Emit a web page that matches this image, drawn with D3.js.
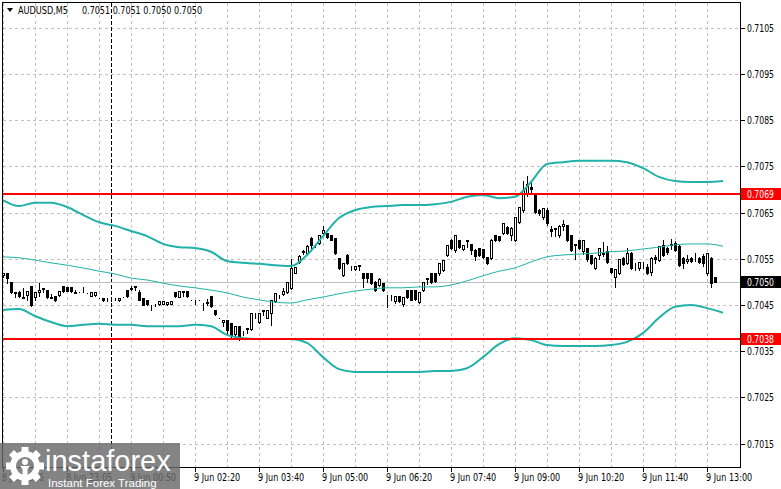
<!DOCTYPE html>
<html>
<head>
<meta charset="utf-8">
<script src="https://cdn.jsdelivr.net/npm/d3@7"></script>
<style>
    body { margin: 0; background: #fff; }
    svg text { font-family: "Liberation Sans Narrow", "DejaVu Sans Condensed", "Liberation Sans", sans-serif; }
</style>
</head>
<body>
<div id="chart"></div>
<script>
// AUDUSD M5 candles: [open, high, low, close], one per 5-minute bar
const candles = [
    [0.70514, 0.70520, 0.70510, 0.70518], [0.70519, 0.70520, 0.70498, 0.70508], [0.70500, 0.70501, 0.70475, 0.70478],
    [0.70476, 0.70481, 0.70468, 0.70479], [0.70479, 0.70482, 0.70468, 0.70470], [0.70466, 0.70489, 0.70465, 0.70468],
    [0.70471, 0.70482, 0.70460, 0.70480], [0.70490, 0.70492, 0.70448, 0.70450], [0.70468, 0.70479, 0.70461, 0.70478],
    [0.70478, 0.70499, 0.70470, 0.70482], [0.70485, 0.70489, 0.70478, 0.70487], [0.70482, 0.70484, 0.70466, 0.70468],
    [0.70466, 0.70475, 0.70465, 0.70468], [0.70470, 0.70471, 0.70459, 0.70461], [0.70471, 0.70481, 0.70470, 0.70480],
    [0.70490, 0.70491, 0.70479, 0.70481], [0.70489, 0.70490, 0.70480, 0.70481], [0.70488, 0.70489, 0.70479, 0.70480],
    [0.70476, 0.70485, 0.70476, 0.70478], [0.70480, 0.70481, 0.70479, 0.70480], [0.70489, 0.70490, 0.70478, 0.70488],
    [0.70477, 0.70478, 0.70476, 0.70477], [0.70470, 0.70478, 0.70469, 0.70478], [0.70471, 0.70479, 0.70470, 0.70478],
    [0.70466, 0.70467, 0.70465, 0.70466], [0.70466, 0.70467, 0.70459, 0.70460], [0.70466, 0.70467, 0.70459, 0.70465],
    [0.70468, 0.70470, 0.70459, 0.70467], [0.70466, 0.70467, 0.70460, 0.70466], [0.70460, 0.70467, 0.70459, 0.70466],
    [0.70469, 0.70470, 0.70468, 0.70469], [0.70482, 0.70483, 0.70468, 0.70470], [0.70484, 0.70493, 0.70483, 0.70486],
    [0.70490, 0.70491, 0.70482, 0.70489], [0.70478, 0.70485, 0.70460, 0.70461], [0.70466, 0.70467, 0.70449, 0.70450],
    [0.70460, 0.70461, 0.70450, 0.70451], [0.70450, 0.70451, 0.70440, 0.70449], [0.70452, 0.70454, 0.70448, 0.70451],
    [0.70451, 0.70458, 0.70450, 0.70458], [0.70452, 0.70459, 0.70451, 0.70458], [0.70451, 0.70458, 0.70450, 0.70457],
    [0.70452, 0.70459, 0.70451, 0.70458], [0.70478, 0.70480, 0.70468, 0.70470], [0.70468, 0.70481, 0.70467, 0.70480],
    [0.70480, 0.70481, 0.70470, 0.70479], [0.70481, 0.70482, 0.70468, 0.70470], [0.70461, 0.70462, 0.70460, 0.70461],
    [0.70461, 0.70462, 0.70451, 0.70460], [0.70461, 0.70462, 0.70460, 0.70461], [0.70455, 0.70456, 0.70439, 0.70454],
    [0.70455, 0.70465, 0.70450, 0.70456], [0.70470, 0.70472, 0.70446, 0.70448], [0.70439, 0.70441, 0.70428, 0.70430],
    [0.70422, 0.70423, 0.70421, 0.70422], [0.70413, 0.70418, 0.70405, 0.70417], [0.70417, 0.70419, 0.70385, 0.70396],
    [0.70410, 0.70412, 0.70378, 0.70385], [0.70387, 0.70406, 0.70376, 0.70405], [0.70405, 0.70407, 0.70374, 0.70380],
    [0.70392, 0.70395, 0.70385, 0.70392], [0.70400, 0.70402, 0.70390, 0.70398], [0.70398, 0.70435, 0.70395, 0.70433],
    [0.70433, 0.70435, 0.70422, 0.70432], [0.70413, 0.70433, 0.70410, 0.70432], [0.70438, 0.70440, 0.70428, 0.70437],
    [0.70422, 0.70439, 0.70421, 0.70439], [0.70433, 0.70461, 0.70407, 0.70461], [0.70458, 0.70478, 0.70456, 0.70476],
    [0.70472, 0.70473, 0.70465, 0.70471], [0.70474, 0.70489, 0.70472, 0.70480], [0.70478, 0.70500, 0.70476, 0.70500],
    [0.70487, 0.70552, 0.70485, 0.70530], [0.70519, 0.70535, 0.70518, 0.70532], [0.70543, 0.70560, 0.70540, 0.70556],
    [0.70566, 0.70571, 0.70560, 0.70565], [0.70562, 0.70582, 0.70560, 0.70578], [0.70595, 0.70600, 0.70573, 0.70580],
    [0.70584, 0.70585, 0.70575, 0.70583], [0.70584, 0.70602, 0.70582, 0.70601], [0.70606, 0.70623, 0.70604, 0.70612],
    [0.70606, 0.70608, 0.70595, 0.70597], [0.70601, 0.70604, 0.70590, 0.70591], [0.70595, 0.70597, 0.70560, 0.70562],
    [0.70552, 0.70554, 0.70528, 0.70530], [0.70515, 0.70541, 0.70512, 0.70541], [0.70558, 0.70562, 0.70538, 0.70541],
    [0.70536, 0.70537, 0.70526, 0.70536], [0.70527, 0.70536, 0.70526, 0.70535], [0.70536, 0.70537, 0.70526, 0.70535],
    [0.70519, 0.70522, 0.70489, 0.70508], [0.70519, 0.70521, 0.70500, 0.70508], [0.70518, 0.70520, 0.70495, 0.70498],
    [0.70500, 0.70503, 0.70480, 0.70482], [0.70493, 0.70510, 0.70490, 0.70506], [0.70497, 0.70499, 0.70480, 0.70482],
    [0.70472, 0.70473, 0.70446, 0.70471], [0.70472, 0.70473, 0.70461, 0.70471], [0.70458, 0.70470, 0.70455, 0.70469],
    [0.70470, 0.70472, 0.70456, 0.70458], [0.70452, 0.70468, 0.70448, 0.70467], [0.70482, 0.70484, 0.70466, 0.70467],
    [0.70482, 0.70485, 0.70460, 0.70461], [0.70482, 0.70484, 0.70460, 0.70462], [0.70457, 0.70478, 0.70455, 0.70478],
    [0.70482, 0.70500, 0.70480, 0.70500], [0.70508, 0.70510, 0.70495, 0.70507], [0.70519, 0.70521, 0.70498, 0.70500],
    [0.70519, 0.70521, 0.70500, 0.70502], [0.70519, 0.70541, 0.70515, 0.70541], [0.70526, 0.70550, 0.70524, 0.70547],
    [0.70558, 0.70582, 0.70556, 0.70580], [0.70591, 0.70595, 0.70572, 0.70573], [0.70569, 0.70603, 0.70565, 0.70601],
    [0.70591, 0.70593, 0.70573, 0.70575], [0.70570, 0.70581, 0.70568, 0.70580], [0.70590, 0.70592, 0.70575, 0.70589],
    [0.70582, 0.70584, 0.70560, 0.70569], [0.70569, 0.70573, 0.70547, 0.70556], [0.70573, 0.70575, 0.70556, 0.70558],
    [0.70571, 0.70573, 0.70552, 0.70554], [0.70554, 0.70556, 0.70539, 0.70541], [0.70552, 0.70595, 0.70550, 0.70591],
    [0.70601, 0.70603, 0.70589, 0.70591], [0.70600, 0.70602, 0.70588, 0.70590], [0.70606, 0.70630, 0.70604, 0.70627],
    [0.70619, 0.70624, 0.70604, 0.70606], [0.70601, 0.70621, 0.70590, 0.70617], [0.70591, 0.70642, 0.70588, 0.70640],
    [0.70629, 0.70664, 0.70627, 0.70662], [0.70655, 0.70720, 0.70652, 0.70699], [0.70690, 0.70731, 0.70685, 0.70712],
    [0.70705, 0.70720, 0.70690, 0.70700], [0.70692, 0.70695, 0.70648, 0.70651], [0.70655, 0.70660, 0.70645, 0.70649],
    [0.70640, 0.70662, 0.70635, 0.70660], [0.70655, 0.70662, 0.70622, 0.70627], [0.70615, 0.70623, 0.70600, 0.70610],
    [0.70617, 0.70619, 0.70600, 0.70615], [0.70601, 0.70625, 0.70598, 0.70621], [0.70620, 0.70635, 0.70612, 0.70625],
    [0.70623, 0.70626, 0.70589, 0.70591], [0.70601, 0.70603, 0.70567, 0.70569], [0.70582, 0.70584, 0.70550, 0.70580],
    [0.70591, 0.70593, 0.70571, 0.70573], [0.70567, 0.70593, 0.70560, 0.70590], [0.70573, 0.70575, 0.70545, 0.70550],
    [0.70558, 0.70560, 0.70539, 0.70541], [0.70530, 0.70555, 0.70528, 0.70552], [0.70558, 0.70575, 0.70550, 0.70573],
    [0.70560, 0.70588, 0.70555, 0.70563], [0.70567, 0.70580, 0.70540, 0.70543], [0.70530, 0.70532, 0.70519, 0.70521],
    [0.70510, 0.70530, 0.70489, 0.70528], [0.70519, 0.70552, 0.70517, 0.70550], [0.70552, 0.70556, 0.70536, 0.70538],
    [0.70541, 0.70575, 0.70538, 0.70563], [0.70562, 0.70567, 0.70528, 0.70530], [0.70541, 0.70543, 0.70526, 0.70540],
    [0.70530, 0.70545, 0.70526, 0.70543], [0.70541, 0.70545, 0.70530, 0.70540], [0.70532, 0.70540, 0.70517, 0.70520],
    [0.70521, 0.70555, 0.70515, 0.70552], [0.70553, 0.70560, 0.70540, 0.70550], [0.70547, 0.70580, 0.70545, 0.70578],
    [0.70580, 0.70592, 0.70556, 0.70558], [0.70573, 0.70578, 0.70560, 0.70565], [0.70582, 0.70595, 0.70570, 0.70580],
    [0.70584, 0.70590, 0.70567, 0.70569], [0.70578, 0.70582, 0.70534, 0.70537], [0.70552, 0.70556, 0.70530, 0.70541],
    [0.70545, 0.70560, 0.70540, 0.70550], [0.70552, 0.70556, 0.70543, 0.70545], [0.70556, 0.70565, 0.70545, 0.70555],
    [0.70552, 0.70555, 0.70540, 0.70543], [0.70556, 0.70562, 0.70535, 0.70541], [0.70519, 0.70565, 0.70515, 0.70562],
    [0.70552, 0.70556, 0.70489, 0.70497], [0.70510, 0.70512, 0.70499, 0.70500]
];

// Bollinger bands, read every 4 bars (bar 0, 4, 8, ... 180)
const bandStep = 4;
const upperBand = [
    0.70677, 0.70664, 0.70671, 0.70671, 0.70662, 0.70645, 0.70629, 0.70621, 0.70610, 0.70599,
    0.70582, 0.70575, 0.70573, 0.70565, 0.70545, 0.70541, 0.70539, 0.70536, 0.70534, 0.70558,
    0.70599, 0.70638, 0.70655, 0.70662, 0.70664, 0.70666, 0.70666, 0.70668, 0.70673, 0.70684,
    0.70688, 0.70681, 0.70684, 0.70716, 0.70755, 0.70759, 0.70762, 0.70762, 0.70762, 0.70759,
    0.70746, 0.70727, 0.70718, 0.70716, 0.70716, 0.70718
];
const middleBand = [
    0.70554, 0.70552, 0.70547, 0.70541, 0.70536, 0.70530, 0.70523, 0.70517, 0.70508, 0.70504,
    0.70497, 0.70491, 0.70487, 0.70482, 0.70476, 0.70467, 0.70461, 0.70456, 0.70454, 0.70461,
    0.70467, 0.70474, 0.70480, 0.70484, 0.70487, 0.70487, 0.70489, 0.70489, 0.70493, 0.70502,
    0.70513, 0.70523, 0.70530, 0.70543, 0.70554, 0.70558, 0.70560, 0.70562, 0.70565, 0.70567,
    0.70571, 0.70575, 0.70580, 0.70582, 0.70582, 0.70577
];
const lowerBand = [
    0.70439, 0.70441, 0.70426, 0.70413, 0.70404, 0.70407, 0.70409, 0.70407, 0.70407, 0.70404,
    0.70404, 0.70404, 0.70407, 0.70404, 0.70385, 0.70378, 0.70376, 0.70376, 0.70376, 0.70368,
    0.70337, 0.70311, 0.70305, 0.70305, 0.70305, 0.70305, 0.70305, 0.70307, 0.70307, 0.70313,
    0.70337, 0.70365, 0.70378, 0.70374, 0.70363, 0.70361, 0.70361, 0.70361, 0.70363, 0.70370,
    0.70389, 0.70422, 0.70446, 0.70450, 0.70443, 0.70433
];

const priceTicks = [0.7015, 0.7025, 0.7035, 0.7045, 0.7055, 0.7065, 0.7075, 0.7085, 0.7095, 0.7105];
const timeLabels = [
    { bar: 0, text: '8 Jun 2026' }, { bar: 16, text: '8 Jun 23:05' }, { bar: 32, text: '9 Jun 00:50' },
    { bar: 48, text: '9 Jun 02:20' }, { bar: 64, text: '9 Jun 03:40' }, { bar: 80, text: '9 Jun 05:00' },
    { bar: 96, text: '9 Jun 06:20' }, { bar: 112, text: '9 Jun 07:40' }, { bar: 128, text: '9 Jun 09:00' },
    { bar: 144, text: '9 Jun 10:20' }, { bar: 160, text: '9 Jun 11:40' }, { bar: 176, text: '9 Jun 13:00' }
];
const daySeparatorBar = 27;
const levels = [{ price: 0.7069, text: '0.7069' }, { price: 0.70377, text: '0.7038' }];
const bid = { price: 0.7050, text: '0.7050' };
const symbol = 'AUDUSD,M5';
const ohlc = '0.7051 0.7051 0.7050 0.7050';

const width = 781, height = 489;
const plot = { left: 2.5, right: 740.5, top: 2.5, bottom: 467.5 };
const teal = '#20b2aa';
const fontSize = '10.5px';

const svg = d3.select('#chart')
    .append('svg')
    .attr('width', width)
    .attr('height', height)
    .style('display', 'block');

const x = d3.scaleLinear().domain([0, 178]).range([3, 715]);
const y = d3.scaleLinear().domain([0.7015, 0.7105]).range([443.5, 27.7]);
const py = p => Math.round(y(p)) + 0.5;

// grid
const grid = svg.append('g').attr('shape-rendering', 'crispEdges');
grid.selectAll('line.h')
    .data(priceTicks)
    .join('line')
    .attr('x1', plot.left).attr('x2', plot.right)
    .attr('y1', d => py(d)).attr('y2', d => py(d))
    .attr('stroke', '#c0c0c0')
    .attr('stroke-dasharray', '3,3');

grid.selectAll('line.v')
    .data(d3.range(0, 177, 8))
    .join('line')
    .attr('x1', d => x(d) + 0.5).attr('x2', d => x(d) + 0.5)
    .attr('y1', plot.top).attr('y2', plot.bottom)
    .attr('stroke', '#c0c0c0')
    .attr('stroke-dasharray', '3,3');

grid.append('line')
    .attr('x1', x(daySeparatorBar) + 0.5).attr('x2', x(daySeparatorBar) + 0.5)
    .attr('y1', plot.top).attr('y2', plot.bottom)
    .attr('stroke', '#000')
    .attr('stroke-dasharray', '4,2');

grid.append('line')
    .attr('x1', plot.left).attr('x2', plot.right)
    .attr('y1', py(bid.price)).attr('y2', py(bid.price))
    .attr('stroke', '#c0c0c0');

// candles
const cg = svg.append('g').attr('shape-rendering', 'crispEdges');
cg.selectAll('line.wick')
    .data(candles)
    .join('line')
    .attr('x1', (d, i) => x(i) + 0.5).attr('x2', (d, i) => x(i) + 0.5)
    .attr('y1', d => py(d[1])).attr('y2', d => py(d[2]))
    .attr('stroke', '#000');

cg.selectAll('rect.body')
    .data(candles)
    .join('rect')
    .attr('x', (d, i) => x(i) - 0.5)
    .attr('width', 2)
    .attr('y', d => py(Math.max(d[0], d[3])))
    .attr('height', d => Math.max(0, py(Math.min(d[0], d[3])) - py(Math.max(d[0], d[3]))))
    .attr('fill', d => d[3] >= d[0] ? '#fff' : '#000')
    .attr('stroke', '#000');

// bollinger bands
const bandLine = d3.line()
    .x((d, i) => x(i * bandStep))
    .y(d => y(d))
    .curve(d3.curveMonotoneX);

[[upperBand, 2], [middleBand, 1], [lowerBand, 2]].forEach(([band, w]) => {
    svg.append('path')
        .datum(band)
        .attr('d', bandLine)
        .attr('fill', 'none')
        .attr('stroke', teal)
        .attr('stroke-width', w);
});

// horizontal levels
svg.selectAll('line.level')
    .data(levels)
    .join('line')
    .attr('x1', plot.left).attr('x2', plot.right)
    .attr('y1', d => Math.round(y(d.price))).attr('y2', d => Math.round(y(d.price)))
    .attr('stroke', '#ff0000')
    .attr('stroke-width', 2)
    .attr('shape-rendering', 'crispEdges');

// frame
svg.append('rect')
    .attr('x', plot.left).attr('y', plot.top)
    .attr('width', plot.right - plot.left).attr('height', plot.bottom - plot.top)
    .attr('fill', 'none')
    .attr('stroke', '#000')
    .attr('shape-rendering', 'crispEdges');

// price axis
const axis = svg.append('g');
axis.selectAll('line.tick')
    .data(priceTicks)
    .join('line')
    .attr('x1', plot.right).attr('x2', plot.right + 4)
    .attr('y1', d => py(d)).attr('y2', d => py(d))
    .attr('stroke', '#000')
    .attr('shape-rendering', 'crispEdges');

axis.selectAll('text.price')
    .data(priceTicks)
    .join('text')
    .attr('x', 747)
    .attr('y', d => py(d))
    .attr('dy', '0.35em')
    .attr('font-size', fontSize)
    .attr('textLength', 27)
    .attr('lengthAdjust', 'spacingAndGlyphs')
    .attr('fill', '#000')
    .text(d => d.toFixed(4));

function axisBox(price, text, bg) {
    const cy = Math.round(y(price));
    axis.append('rect')
        .attr('x', 741).attr('y', cy - 6)
        .attr('width', 40).attr('height', 12)
        .attr('fill', bg);
    axis.append('text')
        .attr('x', 747).attr('y', cy)
        .attr('dy', '0.35em')
        .attr('font-size', fontSize)
        .attr('textLength', 27)
        .attr('lengthAdjust', 'spacingAndGlyphs')
        .attr('fill', '#fff')
        .text(text);
}
levels.forEach(d => axisBox(d.price, d.text, '#ff0000'));
axisBox(bid.price, bid.text, '#000');

// time axis
axis.selectAll('line.ttick')
    .data(timeLabels)
    .join('line')
    .attr('x1', d => x(d.bar) + 0.5).attr('x2', d => x(d.bar) + 0.5)
    .attr('y1', plot.bottom).attr('y2', plot.bottom + 4)
    .attr('stroke', '#000')
    .attr('shape-rendering', 'crispEdges');

axis.selectAll('text.time')
    .data(timeLabels)
    .join('text')
    .attr('x', d => x(d.bar) - 1)
    .attr('y', 481)
    .attr('font-size', fontSize)
    .attr('textLength', d => d.text.length * 4.2)
    .attr('lengthAdjust', 'spacingAndGlyphs')
    .attr('fill', '#000')
    .text(d => d.text);

// title
svg.append('path')
    .attr('d', 'M7,8 L13,8 L10,12 Z')
    .attr('fill', '#000');
svg.append('text')
    .attr('x', 18).attr('y', 14)
    .attr('font-size', fontSize)
    .attr('textLength', 50)
    .attr('lengthAdjust', 'spacingAndGlyphs')
    .attr('fill', '#000')
    .text(symbol);
svg.append('text')
    .attr('x', 82).attr('y', 14)
    .attr('font-size', fontSize)
    .attr('textLength', 120)
    .attr('lengthAdjust', 'spacingAndGlyphs')
    .attr('fill', '#000')
    .text(ohlc);

// watermark over the bottom-left corner (the labels under it stay as they are in the source)
const wm = svg.append('g');
wm.append('rect')
    .attr('x', 0).attr('y', 443)
    .attr('width', 180).attr('height', 46)
    .attr('fill', 'rgb(105,105,105)')
    .attr('opacity', 0.82);

const gear = wm.append('g').attr('transform', 'translate(25,466)').attr('fill', '#fff');
d3.range(8).forEach(i => {
    gear.append('rect')
        .attr('x', -3.5).attr('y', -19)
        .attr('width', 7).attr('height', 8)
        .attr('transform', `rotate(${i * 45})`);
});
gear.append('path')
    .attr('d', d3.arc()({ innerRadius: 9, outerRadius: 15, startAngle: 0, endAngle: 2 * Math.PI }));
gear.append('circle').attr('cx', 0).attr('cy', -4).attr('r', 3);
gear.append('path').attr('d', 'M-5,0 L5,0 L2.5,3 L2.5,14 L-2.5,14 L-2.5,3 Z');

wm.append('text')
    .attr('x', 45).attr('y', 471)
    .style('font-family', '"Liberation Sans", Arial, sans-serif')
    .attr('font-size', '29px')
    .attr('fill', '#fff')
    .text('instaforex');
wm.append('text')
    .attr('x', 48).attr('y', 487)
    .style('font-family', '"Liberation Sans", Arial, sans-serif')
    .attr('font-size', '11.5px')
    .attr('fill', '#fff')
    .text('Instant Forex Trading');
</script>
</body>
</html>
